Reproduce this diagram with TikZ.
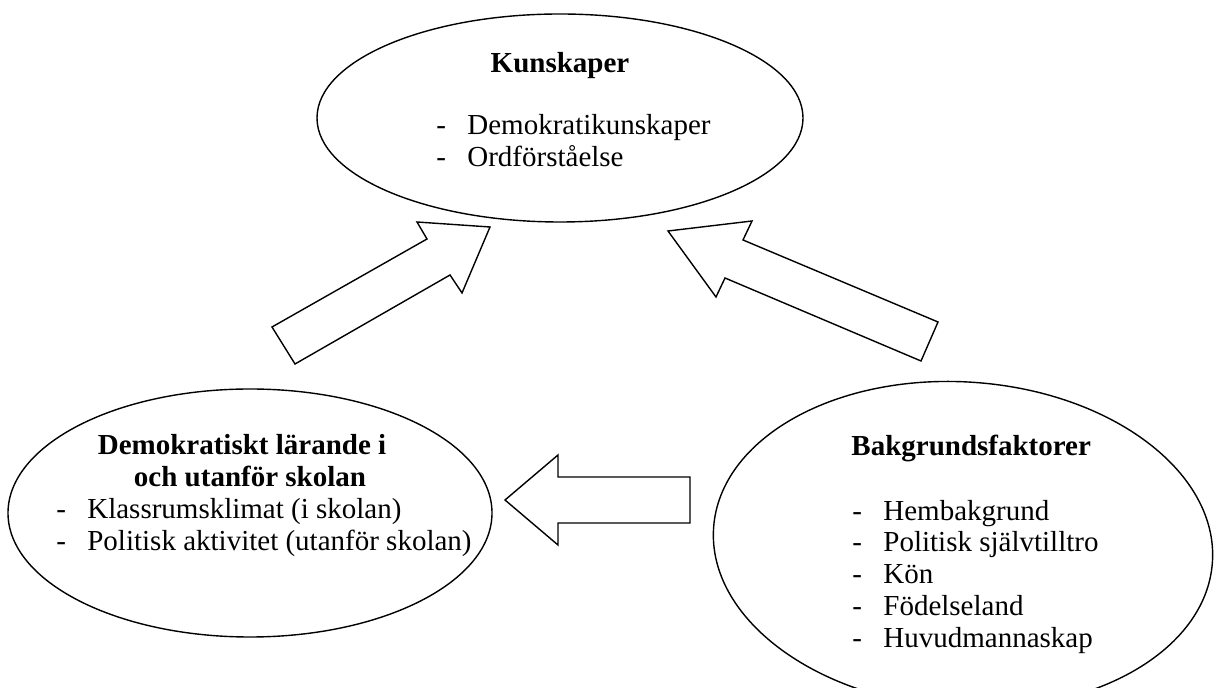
\documentclass[tikz,border=0pt]{standalone}
\usepackage{fontspec}
\setmainfont{Liberation Serif}
\usepackage{tikz}
\usetikzlibrary{shapes.geometric, positioning}
\newcommand{\diagfont}{\fontsize{14.5}{15.85}\selectfont}
\tikzstyle{ring} = [ellipse, draw=black, line width=0.7pt, inner sep=0pt]
\tikzstyle{blockarrow} = [draw=black, line width=0.7pt, fill=white, line join=miter]
\tikzstyle{title} = [anchor=base, inner sep=0pt, font=\diagfont\bfseries]
\tikzstyle{listitem} = [anchor=base west, inner sep=0pt, font=\diagfont]
\newcommand{\dashitem}[1]{\makebox[15.5pt][l]{-}#1}

\begin{document}
\begin{tikzpicture}[x=0.5pt, y=-0.5pt]
        \useasboundingbox (0,0) rectangle (1215,688);

        \node (kunskaper) [ring, minimum width=243pt, minimum height=104pt] at (560,118) {};
        \node (larande) [ring, minimum width=242pt, minimum height=124pt] at (250,513) {};
        \node (bakgrund) [ring, minimum width=250pt, minimum height=163pt, rotate=-4] at (963,545) {};

        \node (kuntitle) [title] at (560,73) {Kunskaper};
        \node (kun1) [listitem] at (436,135) {\dashitem{Demokratikunskaper}};
        \node (kun2) [listitem] at (436,167) {\dashitem{Ordförståelse}};

        \node (lartitle1) [title] at (242,455) {Demokratiskt lärande i};
        \node (lartitle2) [title] at (250,487) {och utanför skolan};
        \node (lar1) [listitem] at (56,519) {\dashitem{Klassrumsklimat (i skolan)}};
        \node (lar2) [listitem] at (56,551) {\dashitem{Politisk aktivitet (utanför skolan)}};

        \node (baktitle) [title, anchor=base west] at (851,456) {Bakgrundsfaktorer};
        \foreach \txt [count=\i] in {Hembakgrund, Politisk självtilltro, Kön, Födelseland, Huvudmannaskap}
            \node (bak\i) [listitem] at (852,{488.3+31.75*\i}) {\dashitem{\txt}};

        \draw [blockarrow] (272,327) -- (427,239) -- (417,222) -- (490,227) -- (462,293) -- (450,275) -- (295,364) -- cycle;
        \draw [blockarrow] (668,231) -- (752,221) -- (743,240) -- (938,322) -- (921,361) -- (725,278) -- (716,297) -- cycle;
        \draw [blockarrow] (505,500) -- (558,455) -- (558,477) -- (690,477) -- (690,523) -- (558,523) -- (558,545) -- cycle;

        \end{tikzpicture}
\end{document}
